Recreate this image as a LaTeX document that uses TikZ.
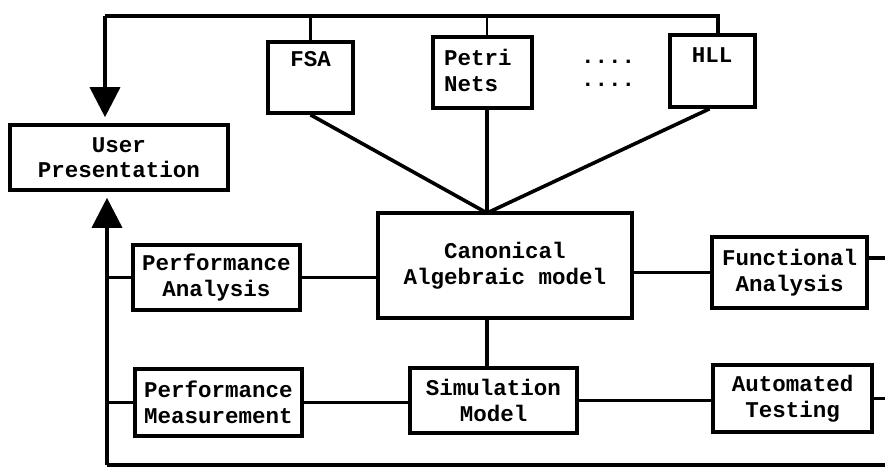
\documentclass[tikz,border=0pt]{standalone}
\usepackage{fontspec}
\setmonofont{Liberation Mono}
\usetikzlibrary{arrows.meta}
\begin{document}
\begin{tikzpicture}[x=1pt,y=-1pt,
  box/.style={draw, line width=3.6pt, inner sep=0pt, align=center,
    font=\ttfamily\bfseries\fontsize{22.5}{25.5}\selectfont},
  tlabel/.style={font=\ttfamily\bfseries\fontsize{22.5}{25.5}\selectfont, align=left, inner sep=0pt},
  conn/.style={line width=3.6pt},
  thin/.style={line width=2.4pt},
  bigarrow/.style={line width=3.6pt, -{Triangle[length=30pt,width=30pt]}, shorten >=6pt}
]
\useasboundingbox (0,0) rectangle (885,468);

% boxes
\node[box, minimum width=218pt, minimum height=65pt] (UP) at (119,157.5) {User\\Presentation};
\node[box, minimum width=85pt, minimum height=71pt] (FSA) at (310.5,77.5) {};
\node[tlabel, anchor=north] (FSAt) at (310.5,51) {FSA};
\node[box, minimum width=99pt, minimum height=71pt] (PN) at (482.5,72.5) {};
\node[tlabel, anchor=north west] (PNt) at (444,49) {Petri\\Nets};
\node[box, minimum width=85pt, minimum height=72pt] (HLL) at (712.5,71) {};
\node[tlabel, anchor=north] (HLLt) at (712,47) {HLL};
\node[tlabel] (d1) at (608,62) {....};
\node[tlabel] (d2) at (608,85) {....};

\node[box, minimum width=254pt, minimum height=105pt] (CAM) at (505,265.5) {Canonical\\Algebraic model};
\node[box, minimum width=167pt, minimum height=65pt] (PA) at (216.5,277.5) {Performance\\Analysis};
\node[box, minimum width=155pt, minimum height=71pt] (FA) at (789.5,272.5) {Functional\\Analysis};
\node[box, minimum width=167pt, minimum height=67pt] (PM) at (218.5,402.5) {Performance\\Measurement};
\node[box, minimum width=167pt, minimum height=65pt] (SM) at (493.5,400.5) {Simulation\\Model};
\node[box, minimum width=159pt, minimum height=67pt] (AT) at (792.5,398.5) {Automated\\Testing};

% coordinates
\coordinate (tl) at (105,16);
\coordinate (tr) at (718,16);
\coordinate (bl) at (107,465);
\coordinate (br) at (885,465);
\coordinate (cv) at (487,213);
\coordinate (re1) at (885,258);
\coordinate (re2) at (885,400);

% top bus
\draw[conn] (tr |- HLL.north) -- (tr) -- (tl);
\draw[bigarrow] (tl) -- (tl |- UP.north);
\draw[thin] (FSA.north) -- (FSA.north |- tl);
\draw[thin] (PN.north -| cv) -- (cv |- tl);

% convergence
\draw[conn] (FSA.south) -- (cv);
\draw[conn] (PN.south -| cv) -- (cv);
\draw[conn] ([xshift=-3pt]HLL.south) -- (cv);

% middle rows
\draw[conn] (PA.east) -- (PA.east -| CAM.west);
\draw[conn] (CAM.east |- FA.west) -- (FA.west);
\draw[conn] (FA.east |- re1) -- (re1);
\draw[conn] (cv |- CAM.south) -- (cv |- SM.north);
\draw[conn] (PM.east) -- (PM.east -| SM.west);
\draw[conn] (SM.east) -- (SM.east -| AT.west);
\draw[conn] (AT.east) -- (AT.east -| re2);

% bottom bus
\draw[conn] (br) -- (bl);
\draw[bigarrow] (bl) -- (bl |- UP.south);
\draw[conn] (bl |- PA.west) -- (PA.west);
\draw[conn] (bl |- PM.west) -- (PM.west);
\end{tikzpicture}
\end{document}
